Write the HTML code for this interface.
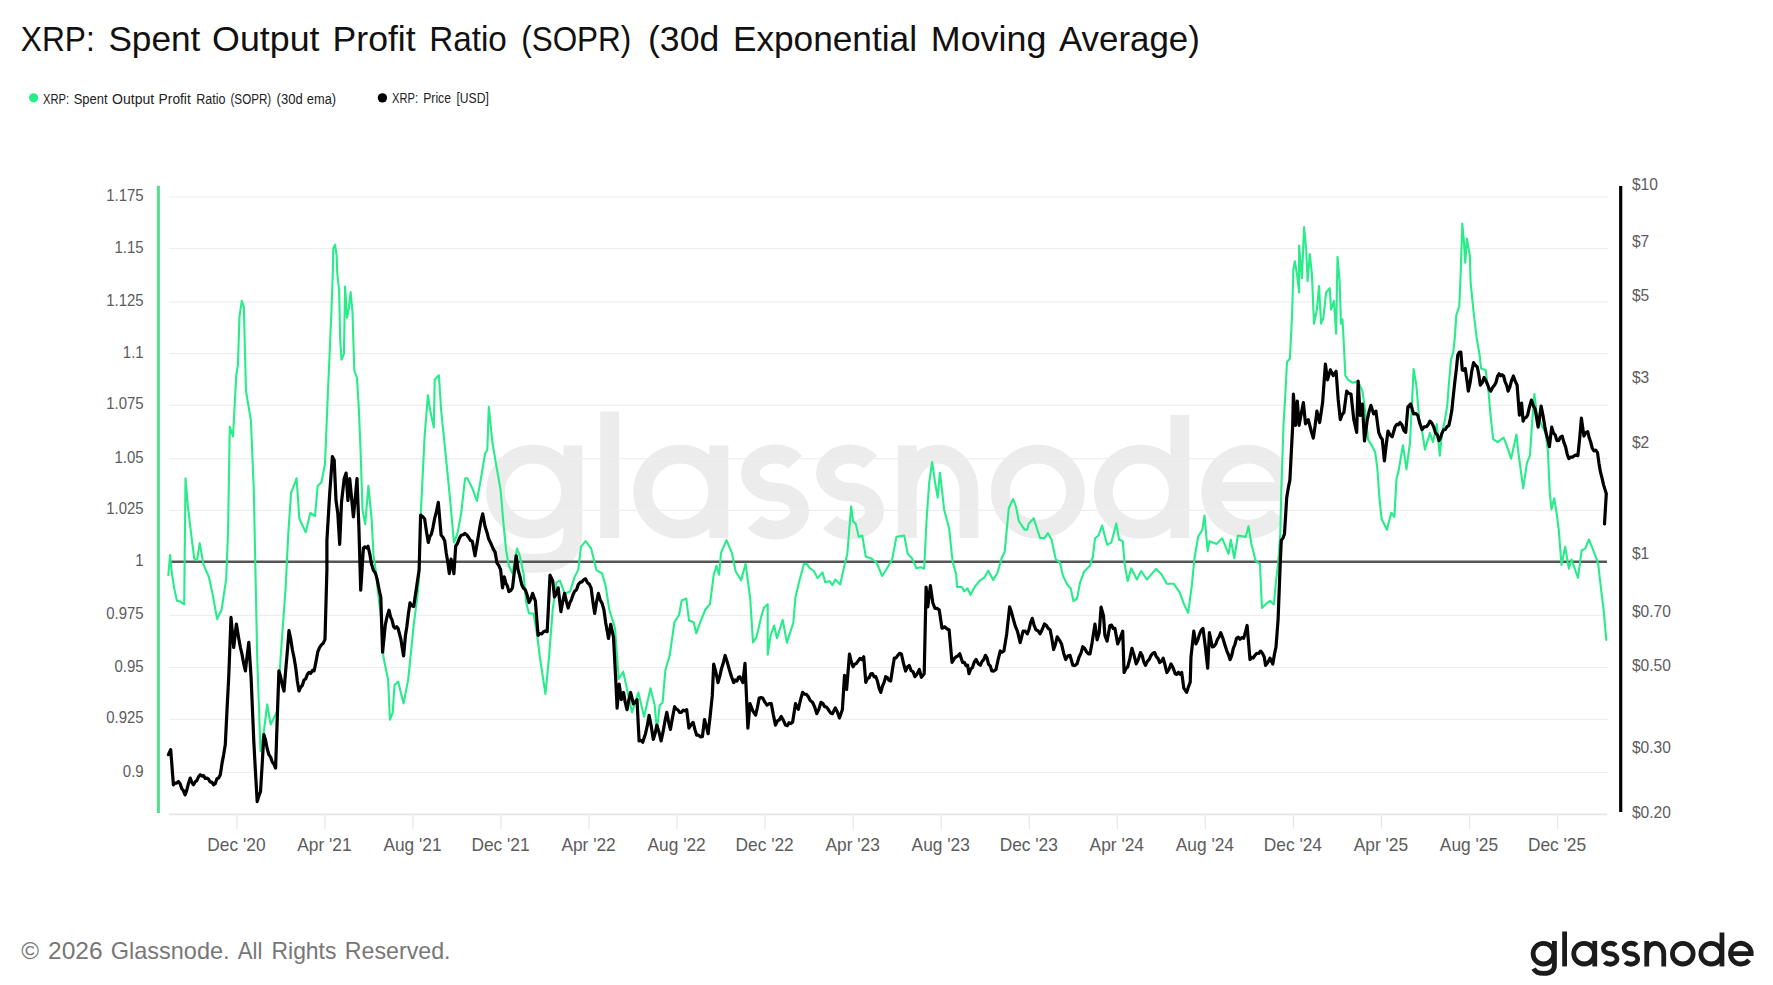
<!DOCTYPE html><html><head><meta charset="utf-8"><style>html,body{margin:0;padding:0;background:#fff;width:1773px;height:985px;overflow:hidden}svg{display:block}text{font-family:"Liberation Sans",sans-serif}</style></head><body>
<svg width="1773" height="985" viewBox="0 0 1773 985">
<rect width="1773" height="985" fill="#fff"/>
<defs><g id="logo"><circle cx="1543.45" cy="953.65" r="10.35"/><path d="M1554.45,940.9 L1554.45,965 C1554.45,971.5 1550,973.45 1543.5,973.45 C1538.5,973.45 1535.2,971.8 1533.6,968.6"/><path d="M1564.6,931.5 L1564.6,966.4"/><circle cx="1584.1" cy="953.65" r="10.35"/><path d="M1594.75,940.9 L1594.75,966.4"/><path d="M1615.82,945.49 A6.8,5.25 0 0 0 1610.25,943.25 A6.8,5.25 0 0 0 1603.45,948.5 A6.8,5.25 0 0 0 1610.25,953.75 A6.8,5.25 0 0 1 1617.05,959.0 A6.8,5.25 0 0 1 1610.25,964.25 A6.8,5.25 0 0 1 1604.68,962.01"/><path d="M1636.52,945.49 A6.8,5.25 0 0 0 1630.95,943.25 A6.8,5.25 0 0 0 1624.15,948.5 A6.8,5.25 0 0 0 1630.95,953.75 A6.8,5.25 0 0 1 1637.75,959.0 A6.8,5.25 0 0 1 1630.95,964.25 A6.8,5.25 0 0 1 1625.38,962.01"/><path d="M1646.75,940.9 L1646.75,966.4 M1646.75,953.65 A8.5,10.35 0 0 1 1663.75,953.65 L1663.75,966.4"/><circle cx="1682.8" cy="953.65" r="10.35"/><circle cx="1711.2" cy="953.65" r="10.35"/><path d="M1721.95,932.5 L1721.95,966.4"/><path d="M1729.50,953.65 L1753.55,953.65 M1751.20,953.65 A10.35,10.35 0 1 0 1749.01,960.02"/></g></defs>
<text x="20.80" y="51.20" font-size="35" fill="#111" textLength="73.99" lengthAdjust="spacingAndGlyphs" >XRP:</text>
<text x="108.40" y="51.20" font-size="35" fill="#111" textLength="91.97" lengthAdjust="spacingAndGlyphs" >Spent</text>
<text x="212.10" y="51.20" font-size="35" fill="#111" textLength="107.37" lengthAdjust="spacingAndGlyphs" >Output</text>
<text x="332.60" y="51.20" font-size="35" fill="#111" textLength="83.09" lengthAdjust="spacingAndGlyphs" >Profit</text>
<text x="429.20" y="51.20" font-size="35" fill="#111" textLength="77.61" lengthAdjust="spacingAndGlyphs" >Ratio</text>
<text x="521.20" y="51.20" font-size="35" fill="#111" textLength="110.10" lengthAdjust="spacingAndGlyphs" >(SOPR)</text>
<text x="648.00" y="51.20" font-size="35" fill="#111" textLength="71.25" lengthAdjust="spacingAndGlyphs" >(30d</text>
<text x="732.90" y="51.20" font-size="35" fill="#111" textLength="184.12" lengthAdjust="spacingAndGlyphs" >Exponential</text>
<text x="930.80" y="51.20" font-size="35" fill="#111" textLength="115.53" lengthAdjust="spacingAndGlyphs" >Moving</text>
<text x="1059.00" y="51.20" font-size="35" fill="#111" textLength="140.78" lengthAdjust="spacingAndGlyphs" >Average)</text>
<circle cx="33.6" cy="97.8" r="4.6" fill="#22f087"/>
<text x="43.10" y="103.50" font-size="14" fill="#222" textLength="26.08" lengthAdjust="spacingAndGlyphs" >XRP:</text>
<text x="73.70" y="103.50" font-size="14" fill="#222" textLength="33.89" lengthAdjust="spacingAndGlyphs" >Spent</text>
<text x="112.10" y="103.50" font-size="14" fill="#222" textLength="42.02" lengthAdjust="spacingAndGlyphs" >Output</text>
<text x="158.60" y="103.50" font-size="14" fill="#222" textLength="32.18" lengthAdjust="spacingAndGlyphs" >Profit</text>
<text x="196.20" y="103.50" font-size="14" fill="#222" textLength="29.38" lengthAdjust="spacingAndGlyphs" >Ratio</text>
<text x="230.50" y="103.50" font-size="14" fill="#222" textLength="40.70" lengthAdjust="spacingAndGlyphs" >(SOPR)</text>
<text x="276.60" y="103.50" font-size="14" fill="#222" textLength="26.12" lengthAdjust="spacingAndGlyphs" >(30d</text>
<text x="306.80" y="103.50" font-size="14" fill="#222" textLength="29.30" lengthAdjust="spacingAndGlyphs" >ema)</text>
<circle cx="382.4" cy="97.85" r="4.7" fill="#000"/>
<text x="392.00" y="103.40" font-size="14" fill="#222" textLength="25.98" lengthAdjust="spacingAndGlyphs" >XRP:</text>
<text x="423.20" y="103.40" font-size="14" fill="#222" textLength="27.80" lengthAdjust="spacingAndGlyphs" >Price</text>
<text x="456.50" y="103.40" font-size="14" fill="#222" textLength="32.33" lengthAdjust="spacingAndGlyphs" >[USD]</text>
<clipPath id="wmclip"><rect x="0" y="0" width="1281" height="985"/></clipPath>
<g clip-path="url(#wmclip)"><g transform="scale(3.6234) translate(-1396.35,-817.95)" fill="none" stroke="#ececec" stroke-width="5.2"><use href="#logo"/></g></g>
<line x1="169" x2="1607.75" y1="197" y2="197" stroke="#eeeeee" stroke-width="1.2"/>
<line x1="169" x2="1607.75" y1="248.5" y2="248.5" stroke="#eeeeee" stroke-width="1.2"/>
<line x1="169" x2="1607.75" y1="301.8" y2="301.8" stroke="#eeeeee" stroke-width="1.2"/>
<line x1="169" x2="1607.75" y1="353.6" y2="353.6" stroke="#eeeeee" stroke-width="1.2"/>
<line x1="169" x2="1607.75" y1="405.4" y2="405.4" stroke="#eeeeee" stroke-width="1.2"/>
<line x1="169" x2="1607.75" y1="458.6" y2="458.6" stroke="#eeeeee" stroke-width="1.2"/>
<line x1="169" x2="1607.75" y1="510.4" y2="510.4" stroke="#eeeeee" stroke-width="1.2"/>
<line x1="169" x2="1607.75" y1="562" y2="562" stroke="#eeeeee" stroke-width="1.2"/>
<line x1="169" x2="1607.75" y1="615.4" y2="615.4" stroke="#eeeeee" stroke-width="1.2"/>
<line x1="169" x2="1607.75" y1="667.5" y2="667.5" stroke="#eeeeee" stroke-width="1.2"/>
<line x1="169" x2="1607.75" y1="719.3" y2="719.3" stroke="#eeeeee" stroke-width="1.2"/>
<line x1="169" x2="1607.75" y1="772.5" y2="772.5" stroke="#eeeeee" stroke-width="1.2"/>
<text x="106.20" y="201.00" font-size="17" fill="#5c5c5c" textLength="37.44" lengthAdjust="spacingAndGlyphs" >1.175</text>
<text x="114.47" y="252.50" font-size="17" fill="#5c5c5c" textLength="29.12" lengthAdjust="spacingAndGlyphs" >1.15</text>
<text x="106.20" y="305.80" font-size="17" fill="#5c5c5c" textLength="37.44" lengthAdjust="spacingAndGlyphs" >1.125</text>
<text x="122.83" y="357.60" font-size="17" fill="#5c5c5c" textLength="20.80" lengthAdjust="spacingAndGlyphs" >1.1</text>
<text x="106.20" y="409.40" font-size="17" fill="#5c5c5c" textLength="37.44" lengthAdjust="spacingAndGlyphs" >1.075</text>
<text x="114.47" y="462.60" font-size="17" fill="#5c5c5c" textLength="29.12" lengthAdjust="spacingAndGlyphs" >1.05</text>
<text x="106.20" y="514.40" font-size="17" fill="#5c5c5c" textLength="37.44" lengthAdjust="spacingAndGlyphs" >1.025</text>
<text x="135.24" y="566.00" font-size="17" fill="#5c5c5c" textLength="8.32" lengthAdjust="spacingAndGlyphs" >1</text>
<text x="106.20" y="619.40" font-size="17" fill="#5c5c5c" textLength="37.44" lengthAdjust="spacingAndGlyphs" >0.975</text>
<text x="114.47" y="671.50" font-size="17" fill="#5c5c5c" textLength="29.12" lengthAdjust="spacingAndGlyphs" >0.95</text>
<text x="106.20" y="723.30" font-size="17" fill="#5c5c5c" textLength="37.44" lengthAdjust="spacingAndGlyphs" >0.925</text>
<text x="122.83" y="776.50" font-size="17" fill="#5c5c5c" textLength="20.80" lengthAdjust="spacingAndGlyphs" >0.9</text>
<line x1="169" x2="1607" y1="814.4" y2="814.4" stroke="#e3e5e8" stroke-width="1.6"/>
<line x1="236.9" x2="236.9" y1="814" y2="829" stroke="#e6e8eb" stroke-width="1.3"/>
<text x="207.30" y="851.20" font-size="19" fill="#5c5c5c" textLength="58.23" lengthAdjust="spacingAndGlyphs" >Dec '20</text>
<line x1="324.9" x2="324.9" y1="814" y2="829" stroke="#e6e8eb" stroke-width="1.3"/>
<text x="297.26" y="851.20" font-size="19" fill="#5c5c5c" textLength="54.38" lengthAdjust="spacingAndGlyphs" >Apr '21</text>
<line x1="413.0" x2="413.0" y1="814" y2="829" stroke="#e6e8eb" stroke-width="1.3"/>
<text x="383.38" y="851.20" font-size="19" fill="#5c5c5c" textLength="58.24" lengthAdjust="spacingAndGlyphs" >Aug '21</text>
<line x1="501.0" x2="501.0" y1="814" y2="829" stroke="#e6e8eb" stroke-width="1.3"/>
<text x="471.42" y="851.20" font-size="19" fill="#5c5c5c" textLength="58.23" lengthAdjust="spacingAndGlyphs" >Dec '21</text>
<line x1="589.1" x2="589.1" y1="814" y2="829" stroke="#e6e8eb" stroke-width="1.3"/>
<text x="561.38" y="851.20" font-size="19" fill="#5c5c5c" textLength="54.38" lengthAdjust="spacingAndGlyphs" >Apr '22</text>
<line x1="677.1" x2="677.1" y1="814" y2="829" stroke="#e6e8eb" stroke-width="1.3"/>
<text x="647.50" y="851.20" font-size="19" fill="#5c5c5c" textLength="58.24" lengthAdjust="spacingAndGlyphs" >Aug '22</text>
<line x1="765.1" x2="765.1" y1="814" y2="829" stroke="#e6e8eb" stroke-width="1.3"/>
<text x="735.54" y="851.20" font-size="19" fill="#5c5c5c" textLength="58.23" lengthAdjust="spacingAndGlyphs" >Dec '22</text>
<line x1="853.2" x2="853.2" y1="814" y2="829" stroke="#e6e8eb" stroke-width="1.3"/>
<text x="825.50" y="851.20" font-size="19" fill="#5c5c5c" textLength="54.38" lengthAdjust="spacingAndGlyphs" >Apr '23</text>
<line x1="941.2" x2="941.2" y1="814" y2="829" stroke="#e6e8eb" stroke-width="1.3"/>
<text x="911.62" y="851.20" font-size="19" fill="#5c5c5c" textLength="58.24" lengthAdjust="spacingAndGlyphs" >Aug '23</text>
<line x1="1029.3" x2="1029.3" y1="814" y2="829" stroke="#e6e8eb" stroke-width="1.3"/>
<text x="999.66" y="851.20" font-size="19" fill="#5c5c5c" textLength="58.23" lengthAdjust="spacingAndGlyphs" >Dec '23</text>
<line x1="1117.3" x2="1117.3" y1="814" y2="829" stroke="#e6e8eb" stroke-width="1.3"/>
<text x="1089.62" y="851.20" font-size="19" fill="#5c5c5c" textLength="54.38" lengthAdjust="spacingAndGlyphs" >Apr '24</text>
<line x1="1205.3" x2="1205.3" y1="814" y2="829" stroke="#e6e8eb" stroke-width="1.3"/>
<text x="1175.74" y="851.20" font-size="19" fill="#5c5c5c" textLength="58.24" lengthAdjust="spacingAndGlyphs" >Aug '24</text>
<line x1="1293.4" x2="1293.4" y1="814" y2="829" stroke="#e6e8eb" stroke-width="1.3"/>
<text x="1263.78" y="851.20" font-size="19" fill="#5c5c5c" textLength="58.23" lengthAdjust="spacingAndGlyphs" >Dec '24</text>
<line x1="1381.4" x2="1381.4" y1="814" y2="829" stroke="#e6e8eb" stroke-width="1.3"/>
<text x="1353.74" y="851.20" font-size="19" fill="#5c5c5c" textLength="54.38" lengthAdjust="spacingAndGlyphs" >Apr '25</text>
<line x1="1469.5" x2="1469.5" y1="814" y2="829" stroke="#e6e8eb" stroke-width="1.3"/>
<text x="1439.86" y="851.20" font-size="19" fill="#5c5c5c" textLength="58.24" lengthAdjust="spacingAndGlyphs" >Aug '25</text>
<line x1="1557.5" x2="1557.5" y1="814" y2="829" stroke="#e6e8eb" stroke-width="1.3"/>
<text x="1527.90" y="851.20" font-size="19" fill="#5c5c5c" textLength="58.23" lengthAdjust="spacingAndGlyphs" >Dec '25</text>
<line x1="158.4" x2="158.4" y1="185.7" y2="813" stroke="#55dd8f" stroke-width="3"/>
<line x1="1620.7" x2="1620.7" y1="186" y2="812" stroke="#000" stroke-width="3.2"/>
<text x="1631.90" y="190.10" font-size="17" fill="#5c5c5c" textLength="25.97" lengthAdjust="spacingAndGlyphs" >$10</text>
<text x="1631.90" y="247.31" font-size="17" fill="#5c5c5c" textLength="17.31" lengthAdjust="spacingAndGlyphs" >$7</text>
<text x="1631.90" y="301.27" font-size="17" fill="#5c5c5c" textLength="17.31" lengthAdjust="spacingAndGlyphs" >$5</text>
<text x="1631.90" y="383.20" font-size="17" fill="#5c5c5c" textLength="17.31" lengthAdjust="spacingAndGlyphs" >$3</text>
<text x="1631.90" y="448.23" font-size="17" fill="#5c5c5c" textLength="17.31" lengthAdjust="spacingAndGlyphs" >$2</text>
<text x="1631.90" y="559.40" font-size="17" fill="#5c5c5c" textLength="17.31" lengthAdjust="spacingAndGlyphs" >$1</text>
<text x="1631.90" y="616.61" font-size="17" fill="#5c5c5c" textLength="38.95" lengthAdjust="spacingAndGlyphs" >$0.70</text>
<text x="1631.90" y="670.57" font-size="17" fill="#5c5c5c" textLength="38.95" lengthAdjust="spacingAndGlyphs" >$0.50</text>
<text x="1631.90" y="752.50" font-size="17" fill="#5c5c5c" textLength="38.95" lengthAdjust="spacingAndGlyphs" >$0.30</text>
<text x="1631.90" y="817.53" font-size="17" fill="#5c5c5c" textLength="38.95" lengthAdjust="spacingAndGlyphs" >$0.20</text>
<line x1="169" x2="1607" y1="561.8" y2="561.8" stroke="#555" stroke-width="2.6"/>
<path d="M168.3,575.1 L170.1,555.0 L171.4,569.6 L174.1,587.9 L176.9,600.7 L180.5,601.6 L184.2,604.3 L185.5,478.3 L187.8,505.7 L190.6,529.4 L194.2,558.7 L197.0,560.5 L199.7,543.1 L203.4,564.1 L208.9,577.0 L212.5,593.4 L217.1,619.0 L221.6,609.8 L226.2,578.8 L228.0,533.0 L229.8,426.8 L233.0,436.5 L236.3,374.8 L237.9,365.0 L239.5,316.4 L241.8,300.8 L243.8,306.6 L246.0,391.0 L250.9,420.3 L253.8,490.0 L257.2,657.5 L260.5,751.3 L263.9,731.2 L267.2,704.4 L270.6,724.5 L277.3,711.1 L280.6,657.5 L285.6,588.0 L288.3,533.0 L291.1,492.9 L296.6,478.3 L299.3,518.5 L305.7,532.2 L310.3,513.0 L315.0,516.0 L317.7,485.9 L321.4,482.2 L325.0,464.0 L327.8,395.0 L329.6,354.2 L331.4,312.2 L332.9,270.2 L333.3,248.3 L335.1,244.6 L336.6,255.6 L337.3,273.9 L339.1,290.3 L340.2,339.6 L341.5,359.7 L343.9,354.2 L345.1,286.6 L347.0,317.7 L348.8,308.6 L350.6,292.1 L352.5,312.2 L354.3,370.7 L357.0,378.0 L358.9,410.0 L360.7,454.8 L362.5,509.6 L365.2,524.2 L368.4,485.9 L371.6,518.8 L373.5,555.3 L376.2,573.6 L377.1,584.6 L380.8,615.7 L383.5,657.7 L388.1,679.6 L389.9,719.8 L392.7,712.5 L394.5,685.1 L398.1,681.5 L403.6,703.4 L408.2,679.6 L413.7,624.8 L417.3,597.4 L419.1,577.3 L421.0,509.6 L424.6,436.5 L427.9,395.4 L430.1,410.0 L433.8,427.4 L434.7,379.8 L438.9,375.3 L441.1,410.0 L442.9,427.4 L446.6,464.0 L450.2,500.5 L453.9,542.5 L457.5,533.4 L461.2,513.3 L465.0,478.6 L467.2,478.1 L472.3,488.2 L476.9,501.0 L480.5,480.9 L485.1,453.5 L487.3,449.8 L488.8,406.9 L492.4,442.5 L496.1,464.4 L500.6,490.0 L503.4,522.9 L506.1,550.3 L508.9,566.0 L512.5,573.3 L517.1,548.5 L519.8,555.8 L523.5,573.3 L526.2,602.5 L529.0,613.5 L533.5,613.5 L537.2,635.4 L539.9,657.3 L545.4,693.9 L549.0,657.3 L552.7,609.8 L556.4,582.4 L560.0,580.6 L564.6,593.4 L570.1,591.5 L574.6,576.9 L578.3,569.6 L581.0,546.7 L585.6,541.2 L591.1,548.5 L596.6,570.4 L602.0,573.3 L605.7,586.1 L609.3,609.8 L615.0,628.1 L618.7,679.0 L623.2,671.7 L628.4,695.4 L632.0,712.4 L638.4,692.5 L644.1,716.7 L650.5,688.2 L654.7,705.3 L656.9,730.9 L659.7,705.3 L662.6,702.5 L665.4,669.8 L669.7,655.5 L674.4,622.3 L679.0,615.0 L681.7,600.4 L686.3,598.6 L689.0,620.5 L693.6,622.3 L696.3,633.3 L700.9,620.5 L705.4,609.5 L710.0,604.0 L713.7,574.8 L716.4,565.7 L719.1,574.8 L721.0,552.9 L726.5,540.1 L731.9,552.9 L735.6,571.2 L741.1,580.3 L745.6,563.9 L750.2,598.6 L753.0,642.4 L756.6,636.9 L761.2,616.8 L763.9,607.7 L767.7,604.2 L767.7,654.7 L770.6,635.5 L774.1,625.5 L777.0,638.3 L782.7,619.9 L786.9,642.6 L793.3,622.7 L795.5,597.1 L799.7,579.5 L804.0,563.9 L806.8,563.9 L809.7,568.2 L813.9,571.0 L817.5,578.1 L822.5,572.4 L825.3,582.4 L829.6,581.0 L832.4,585.2 L835.3,579.5 L840.2,584.5 L843.8,568.2 L847.3,553.9 L849.5,526.9 L851.2,506.3 L853.0,521.2 L855.9,524.1 L858.7,536.9 L862.3,535.5 L865.8,556.8 L870.8,558.2 L876.5,562.5 L882.2,576.0 L887.9,566.7 L892.1,559.6 L896.4,536.9 L904.2,535.5 L907.8,553.9 L912.0,558.2 L916.3,568.2 L920.7,567.3 L924.2,568.7 L926.4,522.5 L929.2,482.7 L932.1,462.0 L934.9,481.2 L937.7,497.6 L939.9,472.7 L942.0,489.8 L944.1,509.7 L949.1,528.2 L952.7,562.3 L956.2,574.2 L957.0,587.0 L961.9,587.0 L964.1,591.3 L967.6,588.4 L970.5,594.8 L974.7,587.0 L979.0,581.3 L984.7,577.1 L988.2,570.7 L993.2,579.9 L997.5,572.8 L1001.7,558.0 L1004.6,552.3 L1008.8,508.2 L1013.1,499.0 L1016.0,506.8 L1018.8,521.0 L1024.5,529.6 L1027.3,529.6 L1028.7,523.9 L1033.7,518.2 L1040.1,538.1 L1044.4,538.1 L1047.9,533.1 L1051.5,539.5 L1055.8,559.4 L1060.0,562.8 L1062.9,575.6 L1067.1,584.2 L1070.7,588.4 L1073.5,601.2 L1077.1,598.4 L1080.0,582.7 L1084.2,571.4 L1089.9,565.7 L1092.8,556.8 L1095.0,538.3 L1098.5,535.5 L1102.1,525.5 L1107.1,544.7 L1111.3,542.6 L1116.3,523.4 L1119.1,539.7 L1122.7,541.1 L1124.8,565.3 L1127.7,581.0 L1131.2,568.2 L1136.9,579.5 L1141.2,571.0 L1146.9,579.5 L1156.1,568.9 L1161.1,573.8 L1166.8,583.8 L1173.9,583.8 L1179.6,592.3 L1183.8,603.7 L1188.1,612.9 L1191.7,586.6 L1194.5,558.2 L1198.1,536.9 L1202.3,529.8 L1204.5,515.5 L1207.7,551.1 L1209.4,541.1 L1216.5,544.0 L1222.2,538.3 L1228.6,553.9 L1230.8,539.7 L1234.3,558.2 L1237.9,535.5 L1245.7,536.9 L1248.5,526.2 L1251.4,544.0 L1255.6,561.0 L1259.9,563.9 L1262.0,608.0 L1266.3,603.7 L1270.0,600.9 L1273.9,604.4 L1276.0,580.9 L1278.1,563.8 L1280.3,534.0 L1281.3,491.3 L1283.5,425.3 L1285.6,389.8 L1287.0,362.0 L1289.9,358.5 L1292.0,316.6 L1293.4,269.7 L1294.8,261.2 L1297.0,274.0 L1299.1,292.5 L1299.1,245.5 L1301.9,278.2 L1304.1,227.1 L1306.2,249.8 L1307.6,281.1 L1309.8,254.1 L1311.9,274.0 L1314.0,323.7 L1316.9,309.5 L1319.0,286.1 L1321.1,323.7 L1323.3,318.1 L1326.1,292.5 L1329.7,288.2 L1331.1,309.5 L1333.9,301.0 L1336.1,333.7 L1337.5,256.9 L1339.6,281.1 L1341.0,323.7 L1342.5,319.5 L1343.9,345.0 L1345.3,375.5 L1348.2,379.8 L1352.4,382.7 L1358.1,381.2 L1362.4,391.2 L1365.2,411.1 L1368.1,439.5 L1372.3,446.6 L1375.2,452.3 L1377.3,468.0 L1379.4,497.7 L1381.6,519.0 L1386.9,529.7 L1391.2,512.7 L1394.4,516.9 L1396.5,478.5 L1398.6,470.8 L1402.9,445.2 L1406.5,469.4 L1410.0,442.4 L1413.6,369.1 L1416.4,385.5 L1419.2,419.6 L1422.1,431.0 L1424.9,449.5 L1430.0,433.1 L1433.0,442.1 L1436.8,424.1 L1439.8,455.7 L1442.0,433.1 L1445.0,419.6 L1447.3,404.6 L1448.8,385.1 L1451.0,359.5 L1453.3,352.0 L1454.8,337.7 L1456.3,315.1 L1459.3,306.1 L1460.8,270.1 L1462.3,223.5 L1463.8,240.0 L1465.3,262.6 L1466.8,238.5 L1469.8,255.1 L1470.6,282.1 L1473.6,312.1 L1476.6,337.7 L1479.6,355.0 L1481.1,368.5 L1485.6,370.0 L1488.6,392.6 L1490.1,410.6 L1493.1,439.1 L1497.6,442.1 L1503.6,437.6 L1506.6,445.1 L1511.1,458.7 L1516.4,434.6 L1518.6,454.1 L1523.2,488.3 L1526.9,463.2 L1529.9,455.7 L1532.1,422.6 L1534.4,394.1 L1536.6,412.1 L1541.1,424.1 L1545.6,433.1 L1547.9,451.1 L1549.7,491.9 L1551.5,509.3 L1554.2,498.3 L1557.0,515.7 L1558.8,530.3 L1561.5,565.0 L1565.2,546.7 L1568.8,568.6 L1571.6,559.5 L1578.0,577.8 L1581.6,550.4 L1585.3,548.6 L1588.9,539.4 L1592.6,548.6 L1598.1,563.2 L1600.8,586.9 L1603.5,608.8 L1606.3,639.9" fill="none" stroke="#28ec89" stroke-width="2.1" stroke-linejoin="round" stroke-linecap="round"/>
<path d="M168.4,754.7 L170.7,749.6 L173.4,784.8 L175.1,783.0 L176.7,783.2 L178.4,781.5 L180.1,783.8 L181.8,788.7 L183.4,790.6 L185.1,794.9 L186.8,790.1 L188.5,783.2 L190.2,778.1 L191.8,782.4 L193.5,784.8 L195.2,781.8 L196.8,780.6 L198.5,776.8 L200.2,774.8 L201.9,776.1 L203.6,775.6 L205.2,778.5 L206.9,778.1 L208.6,779.2 L210.2,782.1 L211.9,782.1 L213.6,784.8 L215.3,783.6 L216.9,778.8 L218.6,778.1 L220.3,774.8 L222.0,763.4 L223.6,755.1 L225.3,744.6 L227.0,709.8 L228.7,677.6 L231.0,617.3 L233.7,647.5 L236.4,624.0 L238.4,636.5 L240.4,647.5 L242.1,654.7 L243.7,663.6 L245.4,670.9 L247.1,655.9 L248.8,642.4 L251.1,677.6 L253.8,741.3 L255.5,772.7 L257.2,801.6 L258.9,796.0 L260.5,791.5 L262.2,764.0 L263.9,734.6 L265.6,740.3 L267.2,748.8 L268.9,754.7 L270.6,757.1 L272.2,761.8 L273.9,764.2 L275.6,768.0 L277.2,720.1 L278.9,670.9 L280.6,676.5 L282.3,685.1 L284.0,691.0 L285.7,670.2 L287.3,651.8 L289.0,630.7 L290.7,638.8 L292.3,649.3 L294.0,657.5 L295.7,667.5 L297.3,680.9 L299.0,691.0 L300.7,687.0 L302.4,685.3 L304.0,680.0 L305.7,678.9 L307.4,674.3 L309.1,672.3 L310.8,673.3 L312.4,670.4 L314.1,670.9 L315.9,662.1 L317.7,652.2 L319.5,647.7 L321.4,644.9 L323.2,643.3 L325.0,639.4 L326.9,570.0 L326.9,540.7 L329.6,495.0 L332.4,456.6 L334.2,460.3 L336.0,500.5 L337.8,513.3 L339.7,544.3 L341.5,502.3 L344.2,478.6 L346.1,473.1 L347.9,500.5 L349.7,478.6 L351.5,497.2 L353.4,516.9 L355.2,498.6 L357.0,478.6 L358.9,527.9 L360.7,590.1 L363.4,548.0 L364.9,546.9 L366.5,547.9 L368.0,546.2 L369.8,554.1 L371.6,564.4 L373.4,570.3 L375.3,572.9 L377.1,579.1 L379.0,589.0 L380.8,597.4 L382.6,652.2 L385.3,624.8 L387.1,616.4 L389.0,610.2 L390.5,616.7 L392.1,620.1 L393.6,626.6 L395.1,628.1 L396.6,626.6 L398.1,628.5 L400.9,639.4 L403.6,655.9 L405.4,635.8 L406.9,626.2 L408.5,613.0 L410.0,602.9 L411.9,605.8 L413.7,606.5 L416.4,588.3 L419.1,570.0 L420.6,515.1 L422.6,516.5 L424.6,518.8 L426.5,531.8 L428.3,542.5 L429.8,536.6 L431.4,534.2 L432.9,527.9 L434.7,518.1 L436.5,511.5 L438.3,502.3 L441.1,535.2 L442.9,537.2 L444.7,540.7 L446.2,552.7 L447.8,562.2 L449.3,573.6 L451.1,559.0 L453.9,573.6 L455.7,546.2 L457.5,543.4 L459.4,538.3 L461.2,535.2 L463.1,534.8 L465.0,533.4 L466.9,535.0 L468.7,537.5 L470.5,540.5 L472.3,541.2 L475.0,555.8 L477.8,539.3 L480.5,522.9 L482.7,513.8 L485.1,526.6 L487.0,532.4 L488.8,539.3 L491.5,544.8 L493.3,549.1 L495.1,552.1 L497.0,563.1 L498.8,565.5 L500.6,569.6 L502.5,587.9 L504.3,576.9 L505.8,583.0 L507.4,586.1 L508.9,591.5 L510.7,590.6 L512.5,587.9 L515.2,564.1 L516.2,555.8 L518.0,569.6 L519.8,575.9 L521.6,584.2 L523.5,588.2 L525.3,589.7 L527.1,594.9 L529.0,602.5 L530.8,599.2 L532.6,593.4 L535.3,600.7 L538.1,635.4 L539.9,633.5 L541.8,633.8 L543.6,631.7 L545.4,630.9 L547.2,631.7 L550.0,575.1 L552.7,580.6 L554.5,597.0 L556.4,593.7 L558.2,587.9 L560.9,611.6 L562.8,601.1 L564.6,593.4 L566.4,601.3 L568.2,608.0 L569.7,603.1 L571.3,600.1 L572.8,595.2 L574.6,591.4 L576.5,589.7 L578.3,584.6 L580.1,582.4 L581.9,581.9 L583.8,579.6 L585.6,578.8 L587.4,582.7 L589.3,584.1 L591.1,587.9 L592.9,601.7 L594.7,613.5 L596.5,602.1 L598.4,593.4 L600.2,600.0 L602.1,603.4 L603.9,609.8 L605.7,622.8 L608.5,638.5 L610.7,624.3 L613.5,637.1 L615.6,676.9 L617.1,708.2 L619.2,684.0 L621.3,699.6 L623.5,692.5 L625.2,702.1 L627.0,709.6 L628.8,700.0 L630.6,692.5 L633.4,703.9 L635.2,702.2 L637.0,699.6 L639.1,740.9 L640.9,740.3 L642.7,742.3 L645.5,733.7 L647.3,725.7 L649.1,715.3 L651.2,726.1 L653.3,739.4 L655.1,733.5 L656.9,725.2 L659.0,732.2 L661.1,740.9 L663.0,732.2 L664.9,721.4 L666.8,712.4 L668.6,722.0 L670.4,729.5 L672.5,717.6 L674.6,706.7 L676.3,709.1 L677.9,709.9 L679.6,712.4 L681.4,712.3 L683.2,710.2 L684.9,710.8 L686.7,709.6 L688.9,728.1 L691.0,724.8 L693.1,722.4 L694.9,729.4 L696.7,735.2 L698.6,735.1 L700.5,736.9 L702.4,736.6 L704.5,719.5 L706.3,726.2 L708.1,733.7 L710.2,715.8 L712.3,695.4 L713.7,664.1 L715.9,672.3 L718.0,682.6 L719.8,676.4 L721.5,668.4 L723.3,663.0 L725.1,655.5 L727.2,661.9 L729.4,669.8 L731.5,676.7 L733.7,682.6 L735.3,679.9 L736.9,681.1 L738.4,677.4 L740.0,676.9 L742.9,682.6 L745.0,663.4 L747.9,728.1 L750.0,703.7 L752.8,710.9 L755.6,715.1 L757.4,707.5 L759.2,698.1 L761.0,697.6 L762.7,698.1 L764.9,702.2 L767.0,705.2 L769.1,703.7 L771.3,703.7 L773.4,715.1 L775.5,725.1 L777.4,721.0 L779.3,719.9 L781.2,716.5 L783.4,720.4 L785.5,725.1 L787.3,725.7 L789.0,722.7 L790.8,723.5 L792.6,722.2 L795.5,703.7 L798.3,709.4 L800.5,699.9 L802.6,692.4 L804.5,694.2 L806.3,694.3 L808.2,696.6 L810.4,700.8 L812.5,702.3 L814.6,706.7 L816.8,713.7 L818.9,709.1 L821.0,702.3 L822.8,703.4 L824.6,706.6 L826.4,707.0 L828.2,709.4 L830.3,712.7 L832.4,713.7 L835.3,708.0 L837.4,712.1 L839.5,718.0 L842.4,709.4 L844.5,675.3 L846.6,689.5 L849.5,654.0 L851.2,661.6 L853.0,666.8 L854.7,664.2 L856.3,663.6 L858.0,661.1 L859.9,658.5 L861.8,659.6 L863.7,656.8 L865.8,682.4 L867.5,678.3 L869.1,677.9 L870.8,673.9 L872.5,673.6 L874.1,676.9 L875.8,676.7 L877.5,681.3 L879.1,688.1 L880.8,692.4 L882.4,686.4 L884.1,682.4 L885.7,676.7 L887.4,677.7 L889.0,680.3 L890.7,681.0 L892.5,668.9 L894.3,658.2 L896.0,657.9 L897.8,655.4 L899.6,653.3 L901.4,654.0 L903.5,663.4 L905.6,671.0 L907.4,666.9 L909.2,665.4 L911.1,670.6 L913.0,671.6 L914.9,676.7 L917.1,673.9 L919.3,669.5 L921.4,677.3 L924.2,673.7 L926.1,587.0 L927.8,606.9 L930.4,585.6 L932.8,602.7 L934.9,608.3 L937.0,608.4 L939.2,609.8 L942.0,628.2 L944.9,626.8 L947.0,628.9 L949.1,629.7 L952.0,662.4 L954.1,658.9 L956.2,656.7 L958.0,655.9 L959.8,653.8 L962.6,662.4 L964.3,662.3 L965.9,665.6 L967.6,665.2 L969.0,673.7 L970.8,668.9 L972.5,667.5 L974.3,662.0 L976.1,659.5 L978.2,663.6 L980.4,665.2 L982.1,661.4 L983.7,659.7 L985.4,655.3 L987.0,657.9 L988.6,664.3 L990.2,665.8 L991.8,670.9 L993.9,671.1 L996.0,669.5 L998.1,659.7 L1000.3,651.0 L1002.1,652.2 L1003.9,651.0 L1006.7,633.9 L1009.6,606.9 L1011.4,611.9 L1013.1,618.3 L1015.2,625.9 L1017.4,631.1 L1020.2,642.5 L1023.1,631.1 L1025.2,631.1 L1027.3,633.9 L1029.0,629.5 L1030.6,622.7 L1032.3,618.3 L1034.1,625.3 L1035.9,629.7 L1038.0,630.7 L1040.1,633.9 L1042.2,629.5 L1044.4,624.0 L1046.3,625.4 L1048.2,628.4 L1050.1,629.7 L1051.8,638.3 L1053.6,649.6 L1055.4,644.4 L1057.2,636.8 L1059.3,639.8 L1061.5,643.9 L1063.6,652.9 L1065.7,659.5 L1067.8,656.0 L1070.0,655.3 L1072.8,665.2 L1074.9,665.6 L1077.1,663.8 L1079.0,657.3 L1080.9,653.4 L1082.8,646.7 L1084.7,648.5 L1086.6,651.9 L1088.5,653.8 L1090.0,654.0 L1092.1,642.6 L1095.0,624.1 L1097.1,639.8 L1099.2,632.7 L1101.1,607.1 L1103.5,615.6 L1104.9,635.5 L1107.1,641.2 L1109.9,625.5 L1111.6,625.1 L1113.2,628.5 L1114.9,628.4 L1117.7,644.0 L1120.6,636.9 L1122.7,631.2 L1124.1,672.5 L1125.9,668.7 L1127.7,666.8 L1129.8,658.9 L1131.9,648.3 L1134.1,655.3 L1136.2,663.9 L1138.3,659.5 L1140.5,652.6 L1142.2,655.6 L1143.8,661.8 L1145.5,665.4 L1147.4,661.4 L1149.2,659.4 L1151.1,655.4 L1152.9,653.3 L1154.7,652.6 L1156.4,656.9 L1158.0,658.5 L1159.7,662.5 L1161.5,661.2 L1163.2,658.2 L1165.0,664.8 L1166.8,672.5 L1168.9,669.5 L1171.0,663.9 L1173.2,668.1 L1175.3,673.9 L1176.9,674.4 L1178.5,672.2 L1180.1,674.2 L1181.7,672.5 L1183.8,688.1 L1186.7,692.4 L1188.5,686.6 L1190.2,682.4 L1191.0,656.8 L1193.8,631.2 L1195.9,644.0 L1197.7,640.4 L1199.5,634.1 L1201.2,630.3 L1203.0,628.4 L1205.2,645.5 L1207.7,668.2 L1209.4,632.7 L1212.3,646.9 L1214.0,646.4 L1215.8,644.0 L1217.5,639.3 L1219.1,636.9 L1220.8,632.7 L1222.9,638.2 L1225.1,645.5 L1226.8,650.8 L1228.4,654.5 L1230.1,659.7 L1231.7,655.6 L1233.3,648.4 L1234.9,644.5 L1236.5,638.3 L1238.3,637.2 L1240.0,639.3 L1241.8,637.6 L1243.6,638.3 L1245.3,632.8 L1247.1,625.5 L1250.0,659.7 L1251.6,657.3 L1253.3,658.0 L1254.9,655.4 L1256.8,653.4 L1258.7,653.5 L1260.6,651.1 L1262.4,653.3 L1264.2,656.8 L1265.6,665.4 L1267.8,662.5 L1270.0,658.2 L1272.8,664.1 L1274.4,654.4 L1276.0,647.0 L1278.1,619.3 L1280.3,561.7 L1281.3,540.4 L1282.9,538.1 L1284.5,534.0 L1286.7,497.7 L1288.3,487.9 L1289.9,480.0 L1292.7,425.3 L1293.4,394.0 L1295.5,425.3 L1297.3,401.1 L1299.1,425.3 L1301.2,413.9 L1303.4,402.6 L1305.5,423.9 L1308.3,419.6 L1311.2,431.0 L1313.3,438.1 L1315.1,425.8 L1316.9,411.1 L1319.7,422.5 L1322.6,402.6 L1325.4,364.2 L1327.5,379.8 L1330.4,369.9 L1333.2,375.5 L1336.1,371.3 L1338.2,399.7 L1340.3,419.6 L1342.1,414.7 L1343.9,412.5 L1346.7,391.2 L1348.8,393.5 L1351.0,394.0 L1353.8,419.6 L1356.7,432.4 L1358.1,381.2 L1360.2,415.4 L1362.4,404.0 L1364.5,441.0 L1367.3,419.6 L1369.1,411.5 L1370.9,405.4 L1373.7,413.9 L1375.9,411.1 L1378.7,432.4 L1380.5,436.9 L1382.3,439.5 L1384.4,460.9 L1386.2,445.0 L1388.0,431.0 L1390.1,434.9 L1392.2,436.7 L1395.1,426.7 L1396.8,424.4 L1398.4,424.8 L1400.1,422.5 L1402.0,424.9 L1403.8,430.4 L1405.7,432.4 L1407.9,406.8 L1410.7,404.0 L1413.6,413.9 L1415.7,413.5 L1417.8,415.4 L1419.9,423.8 L1422.1,429.6 L1424.2,426.8 L1426.4,426.7 L1428.2,424.6 L1430.0,421.1 L1431.9,423.1 L1433.8,427.1 L1435.5,432.9 L1437.3,434.9 L1439.0,440.6 L1440.5,437.7 L1442.0,433.1 L1443.5,430.1 L1445.3,429.5 L1447.0,426.6 L1448.8,425.6 L1450.3,418.8 L1451.8,410.6 L1453.3,395.9 L1454.8,382.1 L1456.3,369.6 L1457.8,355.0 L1459.3,352.3 L1460.8,352.0 L1462.3,370.0 L1463.8,370.5 L1465.3,368.5 L1466.8,379.2 L1468.3,391.1 L1470.1,382.7 L1471.8,371.0 L1473.6,362.5 L1475.4,365.3 L1477.3,367.0 L1478.8,374.8 L1480.3,385.1 L1482.2,382.7 L1484.1,377.5 L1485.9,380.7 L1487.8,385.1 L1489.3,389.5 L1490.8,391.1 L1492.7,387.3 L1494.6,385.1 L1496.1,382.2 L1497.6,376.2 L1499.1,373.8 L1500.6,375.8 L1502.1,374.7 L1503.6,376.0 L1505.1,381.9 L1506.6,385.1 L1508.1,391.1 L1509.9,386.8 L1511.6,380.4 L1513.4,376.0 L1515.2,381.3 L1517.1,385.1 L1519.4,415.1 L1521.6,403.1 L1523.1,421.1 L1524.6,418.0 L1526.1,417.5 L1527.6,415.1 L1529.5,406.6 L1531.4,400.1 L1533.2,405.5 L1535.1,409.1 L1536.6,417.7 L1538.1,427.1 L1539.6,417.3 L1541.1,406.1 L1543.0,415.6 L1544.9,427.1 L1546.4,434.5 L1547.9,439.6 L1549.4,446.6 L1551.7,427.1 L1553.4,433.0 L1555.2,434.9 L1556.9,440.6 L1558.7,440.5 L1560.4,437.1 L1562.2,436.1 L1563.9,442.4 L1565.6,446.9 L1567.2,454.2 L1568.9,458.7 L1570.7,457.0 L1572.4,457.2 L1574.2,455.7 L1576.1,454.9 L1577.9,455.7 L1579.7,438.2 L1581.4,418.1 L1583.9,436.1 L1585.8,432.6 L1587.7,431.6 L1589.2,437.8 L1590.7,442.0 L1592.2,448.1 L1594.0,450.9 L1595.7,450.1 L1597.5,452.6 L1599.0,463.5 L1600.5,472.2 L1602.0,477.9 L1603.5,484.6 L1606.3,493.7 L1604.5,523.9" fill="none" stroke="#000" stroke-width="3.2" stroke-linejoin="round" stroke-linecap="round"/>
<text x="21.30" y="959.40" font-size="24" fill="#777" textLength="17.78" lengthAdjust="spacingAndGlyphs" >©</text>
<text x="48.00" y="959.40" font-size="24" fill="#777" textLength="54.59" lengthAdjust="spacingAndGlyphs" >2026</text>
<text x="110.80" y="959.40" font-size="24" fill="#777" textLength="118.71" lengthAdjust="spacingAndGlyphs" >Glassnode.</text>
<text x="237.80" y="959.40" font-size="24" fill="#777" textLength="24.58" lengthAdjust="spacingAndGlyphs" >All</text>
<text x="271.50" y="959.40" font-size="24" fill="#777" textLength="64.93" lengthAdjust="spacingAndGlyphs" >Rights</text>
<text x="344.80" y="959.40" font-size="24" fill="#777" textLength="105.69" lengthAdjust="spacingAndGlyphs" >Reserved.</text>
<g stroke="#1b1b1b" fill="none" stroke-width="4.8"><use href="#logo"/></g>
</svg></body></html>
